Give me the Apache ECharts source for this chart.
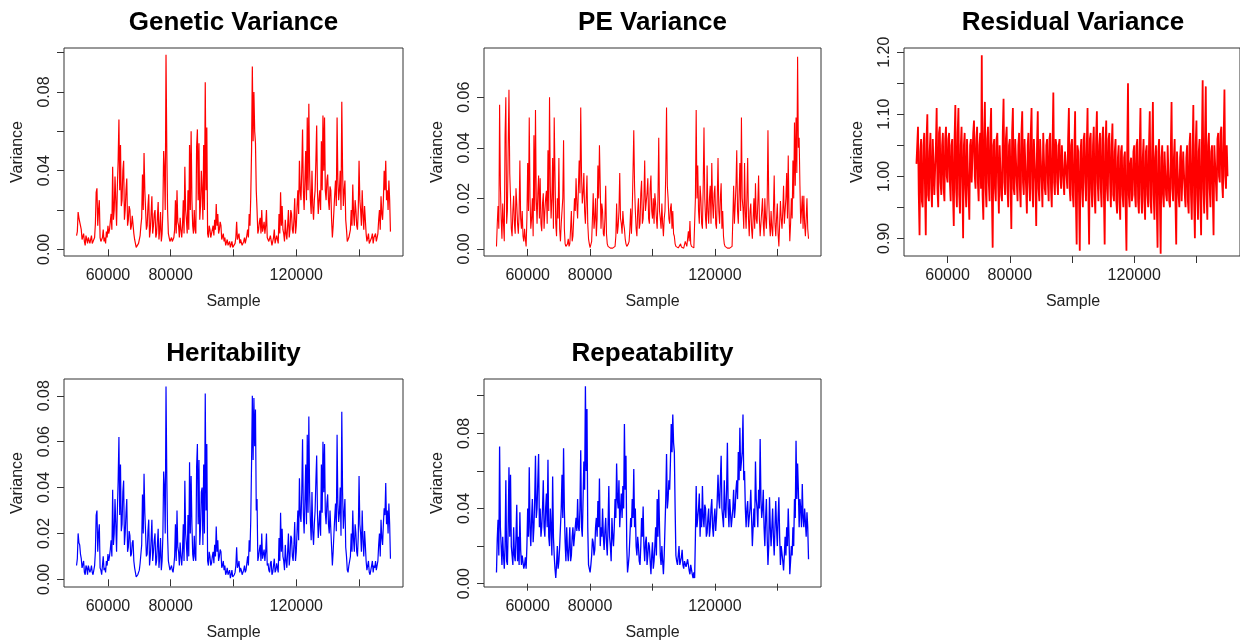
<!DOCTYPE html>
<html>
<head>
<meta charset="utf-8">
<script src="https://cdn.jsdelivr.net/npm/echarts@6/dist/echarts.min.js"></script>
<style>
html,body{margin:0;padding:0;background:#fff;}
#chart{width:1240px;height:643px;}
</style>
</head>
<body>
<div id="chart"></div>
<script>
// ---- data (one value every 250 samples) ----
const firstSample = 50000;
const thinStep = 250;

const panelTitles = ["Genetic Variance", "PE Variance", "Residual Variance", "Heritability", "Repeatability"];
const xTickValues = [60000, 80000, 100000, 120000, 140000];
const xLabelValues = [60000, 80000, 120000];

const geneticVar = [
0.007,0.009, 0.019,0.016, 0.014,0.012, 0.010,0.005, 0.006,0.008, 0.004,0.002, 0.007,0.005, 0.003,0.006, 0.006,0.003, 0.005,0.007,
0.003,0.002, 0.004,0.006, 0.013,0.029, 0.031,0.012, 0.020,0.025, 0.006,0.004, 0.003,0.006, 0.010,0.004, 0.006,0.003, 0.009,0.006,
0.012,0.008, 0.010,0.014, 0.018,0.010, 0.042,0.015, 0.020,0.037, 0.025,0.012, 0.032,0.045, 0.066,0.030, 0.053,0.022, 0.025,0.040,
0.045,0.015, 0.020,0.030, 0.036,0.012, 0.015,0.022, 0.020,0.010, 0.012,0.017, 0.016,0.008, 0.005,0.003, 0.001,0.001, 0.002,0.003,
0.004,0.007, 0.012,0.016, 0.038,0.020, 0.049,0.030, 0.020,0.010, 0.012,0.022, 0.028,0.006, 0.010,0.018, 0.027,0.008, 0.012,0.018,
0.020,0.006, 0.008,0.016, 0.024,0.005, 0.010,0.019, 0.004,0.008, 0.020,0.050, 0.040,0.020, 0.099,0.050, 0.020,0.008, 0.006,0.004,
0.005,0.006, 0.004,0.003, 0.006,0.010, 0.025,0.008, 0.030,0.014, 0.012,0.006, 0.016,0.010, 0.006,0.012, 0.025,0.008, 0.042,0.020,
0.015,0.008, 0.030,0.010, 0.053,0.020, 0.060,0.025, 0.012,0.008, 0.020,0.010, 0.008,0.052, 0.061,0.025, 0.054,0.015, 0.022,0.040,
0.030,0.015, 0.053,0.020, 0.085,0.030, 0.062,0.008, 0.006,0.012, 0.010,0.006, 0.008,0.010, 0.012,0.007, 0.015,0.010, 0.023,0.012,
0.018,0.008, 0.010,0.014, 0.012,0.005, 0.006,0.008, 0.004,0.006, 0.002,0.003, 0.005,0.002, 0.003,0.004, 0.001,0.002, 0.004,0.001,
0.001,0.002, 0.003,0.006, 0.014,0.005, 0.006,0.008, 0.003,0.005, 0.004,0.002, 0.002,0.004, 0.006,0.003, 0.004,0.007, 0.010,0.006,
0.018,0.012, 0.027,0.050, 0.093,0.055, 0.080,0.060, 0.054,0.030, 0.020,0.008, 0.010,0.014, 0.016,0.008, 0.020,0.009, 0.011,0.014,
0.008,0.012, 0.020,0.006, 0.007,0.004, 0.003,0.007, 0.008,0.002, 0.003,0.006, 0.010,0.003, 0.004,0.007, 0.005,0.003, 0.018,0.008,
0.029,0.012, 0.022,0.010, 0.008,0.004, 0.015,0.008, 0.005,0.012, 0.020,0.006, 0.010,0.020, 0.018,0.010, 0.008,0.015, 0.026,0.008,
0.012,0.022, 0.030,0.018, 0.045,0.030, 0.025,0.040, 0.061,0.030, 0.020,0.035, 0.050,0.025, 0.067,0.030, 0.074,0.040, 0.025,0.018,
0.040,0.022, 0.015,0.025, 0.030,0.045, 0.063,0.030, 0.018,0.025, 0.030,0.020, 0.055,0.030, 0.068,0.040, 0.067,0.030, 0.025,0.035,
0.038,0.025, 0.020,0.032, 0.030,0.015, 0.006,0.012, 0.020,0.028, 0.035,0.022, 0.067,0.035, 0.025,0.030, 0.040,0.020, 0.075,0.040,
0.022,0.030, 0.035,0.015, 0.010,0.004, 0.003,0.006, 0.006,0.010, 0.020,0.012, 0.033,0.018, 0.012,0.025, 0.020,0.012, 0.010,0.020,
0.045,0.025, 0.020,0.012, 0.030,0.018, 0.010,0.022, 0.015,0.008, 0.004,0.006, 0.008,0.003, 0.002,0.004, 0.006,0.008, 0.003,0.006,
0.005,0.008, 0.004,0.006, 0.008,0.015, 0.020,0.010, 0.027,0.018, 0.015,0.025, 0.040,0.030, 0.045,0.025, 0.030,0.020, 0.035,0.025,
0.009];

const peVar = [
0.001,0.010, 0.017,0.008, 0.057,0.025, 0.012,0.004, 0.018,0.010, 0.003,0.045, 0.060,0.010, 0.015,0.040, 0.063,0.030, 0.020,0.008,
0.005,0.015, 0.021,0.010, 0.006,0.024, 0.018,0.010, 0.006,0.014, 0.035,0.012, 0.008,0.015, 0.005,0.003, 0.008,0.004, 0.001,0.012,
0.034,0.015, 0.052,0.020, 0.008,0.012, 0.020,0.005, 0.045,0.015, 0.055,0.020, 0.010,0.022, 0.029,0.012, 0.028,0.010, 0.007,0.018,
0.022,0.008, 0.015,0.020, 0.023,0.010, 0.039,0.015, 0.060,0.025, 0.012,0.020, 0.036,0.008, 0.052,0.030, 0.010,0.005, 0.020,0.012,
0.036,0.008, 0.003,0.010, 0.015,0.020, 0.043,0.008, 0.002,0.001, 0.001,0.002, 0.004,0.001, 0.002,0.008, 0.015,0.003, 0.005,0.012,
0.020,0.015, 0.028,0.018, 0.012,0.024, 0.035,0.022, 0.056,0.030, 0.018,0.022, 0.030,0.015, 0.010,0.020, 0.029,0.010, 0.004,0.002,
0.0005,0.001, 0.003,0.012, 0.022,0.008, 0.012,0.020, 0.005,0.012, 0.033,0.020, 0.041,0.025, 0.008,0.018, 0.015,0.006, 0.005,0.012,
0.025,0.006, 0.002,0.001, 0.0005,0.0003, 0.0003,0.0004, 0.0005,0.0003, 0.0004,0.0005, 0.001,0.005, 0.018,0.006, 0.009,0.015, 0.030,0.012,
0.010,0.006, 0.015,0.010, 0.008,0.004, 0.002,0.001, 0.001,0.002, 0.003,0.008, 0.016,0.006, 0.015,0.030, 0.047,0.025, 0.015,0.008,
0.005,0.015, 0.020,0.008, 0.010,0.022, 0.027,0.010, 0.012,0.020, 0.035,0.015, 0.015,0.022, 0.028,0.012, 0.010,0.024, 0.029,0.015,
0.012,0.020, 0.010,0.022, 0.018,0.012, 0.008,0.020, 0.044,0.015, 0.012,0.008, 0.018,0.010, 0.005,0.012, 0.015,0.030, 0.056,0.025,
0.020,0.012, 0.010,0.016, 0.018,0.008, 0.015,0.006, 0.005,0.002, 0.001,0.0005, 0.0008,0.0004, 0.0005,0.001, 0.002,0.0008, 0.0005,0.0004,
0.0003,0.001, 0.003,0.002, 0.001,0.004, 0.007,0.003, 0.011,0.002, 0.001,0.0005, 0.0005,0.0004, 0.001,0.020, 0.055,0.020, 0.033,0.015,
0.010,0.025, 0.020,0.010, 0.008,0.025, 0.048,0.020, 0.012,0.008, 0.033,0.015, 0.010,0.020, 0.025,0.010, 0.034,0.018, 0.012,0.022,
0.025,0.010, 0.008,0.020, 0.036,0.015, 0.010,0.020, 0.026,0.008, 0.015,0.005, 0.002,0.001, 0.0005,0.0003, 0.0003,0.0004, 0.0005,0.0003,
0.0004,0.0005, 0.001,0.012, 0.025,0.010, 0.010,0.025, 0.039,0.015, 0.010,0.022, 0.034,0.015, 0.052,0.020, 0.016,0.008, 0.034,0.015,
0.008,0.020, 0.036,0.012, 0.005,0.015, 0.018,0.008, 0.004,0.012, 0.020,0.008, 0.026,0.012, 0.010,0.018, 0.029,0.012, 0.005,0.010,
0.015,0.020, 0.010,0.005, 0.020,0.012, 0.008,0.018, 0.047,0.020, 0.010,0.005, 0.015,0.008, 0.005,0.015, 0.029,0.010, 0.005,0.012,
0.018,0.006, 0.001,0.010, 0.019,0.012, 0.008,0.015, 0.025,0.010, 0.010,0.020, 0.030,0.012, 0.037,0.015, 0.003,0.010, 0.020,0.012,
0.035,0.020, 0.050,0.025, 0.052,0.030, 0.076,0.040, 0.044,0.025, 0.010,0.015, 0.021,0.008, 0.021,0.010, 0.005,0.012, 0.020,0.008,
0.004];

const residualVar = [
1.02,1.05, 1.08,0.97, 0.905,1.04, 1.06,0.96, 0.95,1.05, 1.07,0.98, 0.905,1.06, 1.10,0.97, 0.96,1.04, 1.07,0.98,
0.95,1.06, 1.06,0.97, 0.97,1.05, 1.11,0.98, 0.95,1.07, 1.08,0.99, 0.97,1.05, 1.07,0.98, 0.96,1.06, 1.08,1.00,
0.99,1.06, 1.07,0.99, 0.96,1.05, 1.06,0.97, 0.92,1.06, 1.115,0.98, 0.95,1.07, 1.11,0.97, 0.94,1.05, 1.08,0.99,
0.90,1.05, 1.07,0.98, 0.95,1.06, 1.06,0.97, 0.93,1.05, 1.06,0.99, 0.99,1.07, 1.09,1.00, 0.98,1.06, 1.08,0.99,
0.96,1.05, 1.07,0.98, 1.195,0.97, 0.93,1.07, 1.12,0.98, 0.95,1.06, 1.08,0.99, 0.96,1.07, 1.11,0.97, 0.885,1.05,
1.06,0.98, 0.96,1.06, 1.07,0.99, 0.94,1.05, 1.05,0.97, 0.96,1.07, 1.125,0.99, 0.97,1.06, 1.08,0.98, 0.95,1.05,
1.06,0.99, 0.915,1.07, 1.11,0.98, 0.97,1.06, 1.06,0.99, 0.96,1.05, 1.07,0.98, 0.95,1.07, 1.105,0.99, 0.97,1.06,
1.06,0.98, 0.94,1.05, 1.07,0.99, 0.96,1.07, 1.11,0.98, 0.95,1.06, 1.06,0.99, 0.92,1.05, 1.105,0.98, 0.96,1.06,
1.06,0.99, 0.95,1.07, 1.07,0.98, 0.97,1.05, 1.06,0.99, 0.96,1.06, 1.07,0.98, 0.95,1.05, 1.135,0.99, 0.97,1.06,
1.05,0.99, 0.97,1.05, 1.06,1.00, 0.98,1.05, 1.05,0.99, 0.97,1.04, 1.04,1.00, 0.98,1.06, 1.11,0.98, 0.96,1.05,
1.06,0.97, 0.95,1.04, 1.105,0.96, 0.89,1.05, 1.04,0.97, 0.88,1.04, 1.06,0.98, 0.95,1.06, 1.07,0.99, 0.96,1.05,
1.11,0.97, 0.89,1.06, 1.07,0.98, 0.95,1.05, 1.08,0.97, 0.94,1.06, 1.105,0.99, 0.96,1.05, 1.07,0.98, 0.95,1.06,
1.08,0.97, 0.89,1.05, 1.09,0.98, 0.96,1.06, 1.07,0.99, 0.95,1.05, 1.085,0.97, 0.96,1.04, 1.06,0.96, 0.94,1.03,
1.05,0.96, 0.93,1.04, 1.05,0.97, 0.95,1.03, 1.04,0.95, 0.88,1.04, 1.15,0.97, 0.95,1.02, 1.03,0.96, 0.97,1.04,
1.05,0.97, 0.95,1.05, 1.06,0.96, 0.94,1.04, 1.11,0.97, 0.94,1.03, 1.06,0.96, 0.93,1.04, 1.05,0.97, 0.95,1.05,
1.105,0.96, 0.94,1.04, 1.12,0.97, 0.93,1.03, 1.05,0.95, 0.885,1.04, 1.06,0.96, 0.875,1.03, 1.05,0.97, 0.95,1.04,
1.04,0.97, 0.96,1.05, 1.05,0.96, 0.95,1.04, 1.12,0.98, 0.96,1.03, 1.06,0.96, 0.89,1.04, 1.04,0.97, 0.95,1.03,
1.05,0.96, 0.96,1.04, 1.04,0.97, 0.95,1.03, 1.05,0.96, 0.94,1.05, 1.07,0.97, 0.93,1.04, 1.115,0.96, 0.90,1.05,
1.09,0.97, 0.93,1.04, 1.06,0.96, 0.905,1.05, 1.155,0.98, 0.94,1.06, 1.145,0.97, 0.93,1.05, 1.07,0.98, 0.95,1.04,
1.05,0.97, 0.905,1.05, 1.05,0.99, 0.96,1.06, 1.07,1.00, 0.99,1.07, 1.08,0.99, 0.965,1.06, 1.14,1.00, 0.98,1.05,
1.00];

const heritability = [
0.006,0.009, 0.020,0.016, 0.015,0.011, 0.009,0.005, 0.005,0.008, 0.003,0.002, 0.006,0.005, 0.002,0.006, 0.006,0.003, 0.004,0.006,
0.003,0.002, 0.004,0.006, 0.012,0.028, 0.030,0.012, 0.020,0.024, 0.005,0.004, 0.002,0.006, 0.010,0.004, 0.005,0.003, 0.008,0.006,
0.011,0.008, 0.010,0.013, 0.017,0.010, 0.039,0.015, 0.020,0.035, 0.024,0.012, 0.030,0.043, 0.062,0.028, 0.050,0.021, 0.024,0.038,
0.043,0.015, 0.020,0.029, 0.035,0.012, 0.014,0.021, 0.019,0.010, 0.011,0.016, 0.017,0.008, 0.005,0.003, 0.001,0.001, 0.002,0.003,
0.004,0.007, 0.011,0.015, 0.037,0.020, 0.046,0.029, 0.020,0.010, 0.011,0.021, 0.026,0.006, 0.010,0.017, 0.026,0.008, 0.012,0.017,
0.020,0.006, 0.008,0.015, 0.022,0.005, 0.010,0.018, 0.004,0.008, 0.019,0.047, 0.040,0.020, 0.084,0.045, 0.019,0.008, 0.006,0.004,
0.005,0.006, 0.004,0.003, 0.006,0.010, 0.024,0.008, 0.030,0.014, 0.012,0.006, 0.016,0.010, 0.006,0.012, 0.024,0.008, 0.043,0.020,
0.015,0.008, 0.028,0.010, 0.051,0.020, 0.045,0.024, 0.011,0.008, 0.019,0.010, 0.008,0.049, 0.059,0.024, 0.052,0.015, 0.022,0.038,
0.040,0.015, 0.050,0.020, 0.081,0.030, 0.059,0.008, 0.006,0.012, 0.010,0.006, 0.007,0.010, 0.012,0.007, 0.015,0.010, 0.023,0.012,
0.017,0.008, 0.010,0.013, 0.012,0.005, 0.006,0.008, 0.004,0.006, 0.002,0.003, 0.005,0.002, 0.003,0.004, 0.0005,0.002, 0.004,0.001,
0.0005,0.002, 0.003,0.006, 0.014,0.005, 0.006,0.008, 0.003,0.005, 0.004,0.002, 0.002,0.004, 0.006,0.003, 0.004,0.007, 0.010,0.006,
0.017,0.012, 0.026,0.050, 0.080,0.052, 0.079,0.058, 0.074,0.030, 0.035,0.008, 0.010,0.013, 0.015,0.008, 0.020,0.009, 0.011,0.013,
0.008,0.012, 0.020,0.006, 0.007,0.004, 0.003,0.007, 0.008,0.002, 0.003,0.006, 0.009,0.003, 0.004,0.007, 0.005,0.003, 0.018,0.008,
0.029,0.012, 0.022,0.010, 0.008,0.004, 0.015,0.008, 0.005,0.012, 0.020,0.006, 0.010,0.019, 0.018,0.010, 0.008,0.015, 0.025,0.008,
0.012,0.021, 0.030,0.017, 0.044,0.028, 0.025,0.038, 0.061,0.029, 0.020,0.034, 0.050,0.024, 0.063,0.029, 0.071,0.038, 0.025,0.017,
0.038,0.021, 0.015,0.024, 0.030,0.043, 0.054,0.029, 0.018,0.024, 0.030,0.019, 0.050,0.029, 0.060,0.038, 0.059,0.029, 0.024,0.033,
0.037,0.024, 0.020,0.030, 0.030,0.014, 0.006,0.012, 0.020,0.027, 0.033,0.021, 0.063,0.033, 0.025,0.029, 0.040,0.019, 0.073,0.038,
0.022,0.029, 0.035,0.014, 0.010,0.004, 0.003,0.006, 0.006,0.010, 0.020,0.012, 0.030,0.017, 0.012,0.024, 0.020,0.012, 0.010,0.019,
0.045,0.024, 0.020,0.012, 0.030,0.017, 0.010,0.021, 0.015,0.008, 0.004,0.006, 0.008,0.003, 0.002,0.004, 0.006,0.008, 0.003,0.006,
0.005,0.008, 0.004,0.006, 0.008,0.015, 0.020,0.010, 0.026,0.018, 0.015,0.024, 0.031,0.028, 0.042,0.024, 0.030,0.020, 0.033,0.024,
0.009];

const repeatability = [
0.006,0.024, 0.034,0.015, 0.073,0.030, 0.020,0.010, 0.025,0.015, 0.008,0.020, 0.055,0.012, 0.010,0.030, 0.062,0.025, 0.058,0.020,
0.015,0.010, 0.030,0.015, 0.012,0.025, 0.042,0.012, 0.025,0.010, 0.038,0.018, 0.010,0.015, 0.016,0.008, 0.010,0.014, 0.008,0.020,
0.040,0.025, 0.062,0.030, 0.020,0.035, 0.045,0.022, 0.030,0.045, 0.068,0.035, 0.040,0.055, 0.069,0.030, 0.040,0.025, 0.030,0.040,
0.055,0.030, 0.025,0.040, 0.048,0.030, 0.066,0.025, 0.020,0.040, 0.030,0.015, 0.057,0.025, 0.015,0.008, 0.003,0.010, 0.020,0.008,
0.012,0.020, 0.030,0.040, 0.058,0.035, 0.072,0.040, 0.022,0.012, 0.030,0.018, 0.012,0.020, 0.030,0.012, 0.015,0.025, 0.030,0.020,
0.025,0.030, 0.035,0.028, 0.045,0.030, 0.028,0.040, 0.071,0.030, 0.025,0.045, 0.065,0.050, 0.105,0.060, 0.093,0.030, 0.010,0.008,
0.006,0.010, 0.015,0.024, 0.022,0.015, 0.018,0.030, 0.035,0.025, 0.044,0.030, 0.056,0.020, 0.030,0.025, 0.040,0.025, 0.018,0.028,
0.035,0.022, 0.015,0.030, 0.052,0.025, 0.020,0.012, 0.035,0.025, 0.020,0.030, 0.045,0.035, 0.064,0.045, 0.040,0.055, 0.030,0.040,
0.048,0.035, 0.052,0.040, 0.085,0.050, 0.068,0.020, 0.006,0.010, 0.015,0.025, 0.035,0.030, 0.045,0.035, 0.061,0.030, 0.040,0.020,
0.015,0.025, 0.020,0.012, 0.010,0.020, 0.035,0.025, 0.041,0.020, 0.012,0.022, 0.025,0.010, 0.015,0.022, 0.020,0.012, 0.005,0.015,
0.022,0.008, 0.012,0.020, 0.030,0.015, 0.045,0.025, 0.050,0.030, 0.015,0.010, 0.020,0.012, 0.005,0.015, 0.030,0.045, 0.069,0.040,
0.045,0.055, 0.050,0.065, 0.085,0.070, 0.090,0.075, 0.070,0.040, 0.015,0.012, 0.010,0.015, 0.020,0.010, 0.010,0.014, 0.018,0.010,
0.008,0.012, 0.012,0.009, 0.008,0.013, 0.012,0.007, 0.005,0.010, 0.010,0.005, 0.003,0.006, 0.003,0.025, 0.052,0.030, 0.030,0.040,
0.048,0.025, 0.040,0.030, 0.052,0.035, 0.030,0.042, 0.040,0.025, 0.027,0.035, 0.040,0.025, 0.030,0.040, 0.045,0.030, 0.025,0.035,
0.040,0.028, 0.035,0.045, 0.058,0.045, 0.040,0.055, 0.068,0.040, 0.040,0.030, 0.055,0.040, 0.035,0.050, 0.075,0.040, 0.030,0.045,
0.045,0.030, 0.030,0.040, 0.050,0.035, 0.040,0.050, 0.055,0.045, 0.070,0.055, 0.083,0.060, 0.060,0.070, 0.090,0.055, 0.060,0.040,
0.030,0.040, 0.044,0.030, 0.030,0.040, 0.050,0.035, 0.020,0.030, 0.040,0.030, 0.065,0.045, 0.040,0.030, 0.050,0.040, 0.077,0.045,
0.035,0.040, 0.050,0.030, 0.020,0.035, 0.045,0.025, 0.010,0.020, 0.046,0.030, 0.020,0.030, 0.040,0.025, 0.015,0.030, 0.044,0.030,
0.020,0.035, 0.046,0.025, 0.010,0.020, 0.020,0.012, 0.007,0.015, 0.025,0.015, 0.030,0.020, 0.040,0.025, 0.005,0.012, 0.020,0.015,
0.030,0.020, 0.045,0.035, 0.076,0.045, 0.064,0.050, 0.030,0.045, 0.040,0.030, 0.053,0.035, 0.030,0.040, 0.033,0.025, 0.038,0.030,
0.013];

// y-axis ticks / labels per panel
const yTicks = [
  [0, 0.02, 0.04, 0.06, 0.08, 0.10],
  [0, 0.02, 0.04, 0.06],
  [0.90, 0.95, 1.00, 1.05, 1.10, 1.15, 1.20],
  [0, 0.02, 0.04, 0.06, 0.08],
  [0, 0.02, 0.04, 0.06, 0.08, 0.10]
];
const yLabels = [
  [0, 0.04, 0.08],
  [0, 0.02, 0.04, 0.06],
  [0.90, 1.00, 1.10, 1.20],
  [0, 0.02, 0.04, 0.06, 0.08],
  [0, 0.04, 0.08]
];

// ---- layout ----
const boxes = [
  {left: 64,  top: 48,  width: 339, height: 208, ymin: -0.0034, ymax: 0.1024},
  {left: 484, top: 48,  width: 337, height: 208, ymin: -0.0028, ymax: 0.0795},
  {left: 904, top: 48,  width: 338, height: 208, ymin: 0.8715,  ymax: 1.2069},
  {left: 64,  top: 379, width: 339, height: 208, ymin: -0.00335, ymax: 0.0873},
  {left: 484, top: 379, width: 337, height: 208, ymin: -0.00176, ymax: 0.1089}
];
const seriesValues = [geneticVar, peVar, residualVar, heritability, repeatability];
const seriesColors = ['#ff0000', '#ff0000', '#ff0000', '#0000ff', '#0000ff'];
const lineWidths = [1.2, 1.1, 1.8, 1.2, 1.3];
const FONT = '"Liberation Sans", Arial, Helvetica, sans-serif';
const TXT = '#222';

const grids = [], xAxes = [], yAxes = [], series = [], graphics = [];
boxes.forEach((b, k) => {
  grids.push({left: b.left, top: b.top, width: b.width, height: b.height, show: true,
    borderColor: '#333', borderWidth: 1, backgroundColor: 'transparent', containLabel: false});
  xAxes.push({type: 'value', gridIndex: k, min: 46000, max: 154000,
    axisLine: {show: false}, splitLine: {show: false},
    axisTick: {show: true, length: 7, customValues: xTickValues, lineStyle: {color: '#333', width: 1}},
    axisLabel: {customValues: xLabelValues, fontSize: 16, fontFamily: FONT, color: TXT, margin: 12,
      formatter: v => String(v)}
  });
  yAxes.push({type: 'value', gridIndex: k, min: b.ymin, max: b.ymax,
    axisLine: {show: false}, splitLine: {show: false},
    axisTick: {show: true, length: 7, customValues: yTicks[k], lineStyle: {color: '#333', width: 1}},
    axisLabel: {customValues: yLabels[k], rotate: 90, fontSize: 16, fontFamily: FONT, color: TXT, margin: 11,
      formatter: v => v.toFixed(2)}
  });
  const vals = seriesValues[k];
  series.push({type: 'line', xAxisIndex: k, yAxisIndex: k, showSymbol: false, symbol: 'none',
    clip: true, sampling: null, animation: false,
    lineStyle: {color: seriesColors[k], width: lineWidths[k]}, itemStyle: {color: seriesColors[k]},
    data: vals.map((v, i) => [firstSample + i * thinStep, v])});
  const cx = b.left + b.width / 2;
  graphics.push({type: 'text', x: cx, y: b.top - 25.5, style: {text: panelTitles[k],
    font: 'bold 26px ' + FONT, fill: '#000', textAlign: 'center', textVerticalAlign: 'middle'}});
  graphics.push({type: 'text', x: cx, y: b.top + b.height + 46, style: {text: 'Sample',
    font: '16px ' + FONT, fill: TXT, textAlign: 'center', textVerticalAlign: 'middle'}});
  graphics.push({type: 'text', x: b.left - 46, y: b.top + b.height / 2, rotation: Math.PI / 2,
    style: {text: 'Variance', font: '16px ' + FONT, fill: TXT, textAlign: 'center', textVerticalAlign: 'middle'}});
});

const chart = echarts.init(document.getElementById('chart'), null, {renderer: 'canvas'});
chart.setOption({
  animation: false,
  backgroundColor: '#fff',
  grid: grids, xAxis: xAxes, yAxis: yAxes, series: series,
  graphic: {elements: graphics}
});
</script>
</body>
</html>
